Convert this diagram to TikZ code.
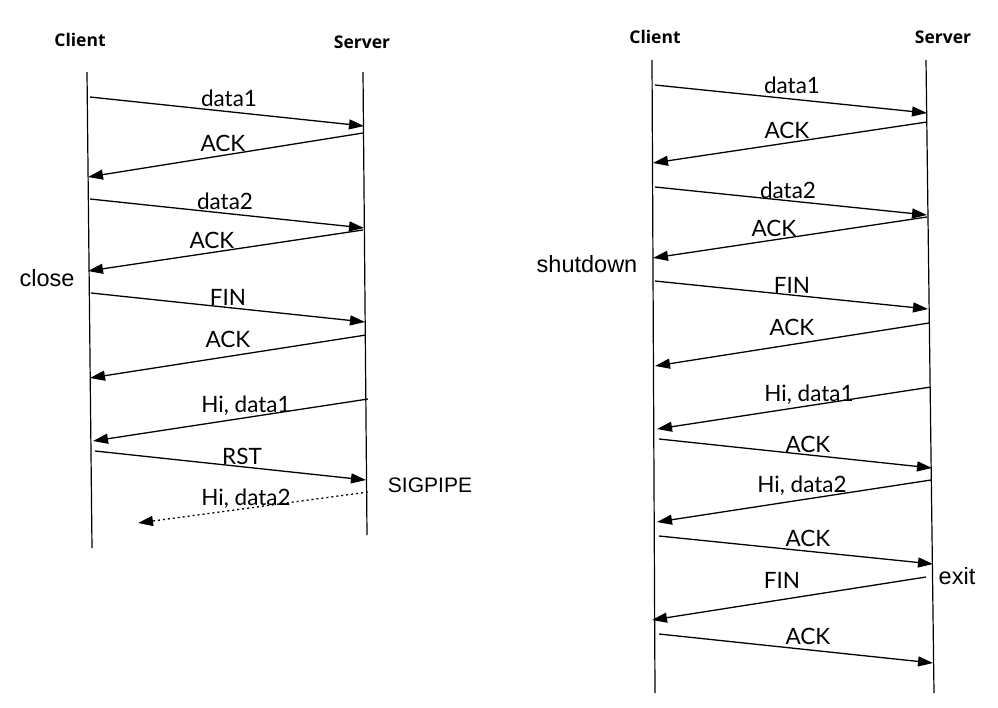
\documentclass[tikz,border=0pt]{standalone}
\usepackage{fontspec}
\setmainfont{Lato}
\newfontfamily\headfont{Open Sans}
\newfontfamily\notefont{Liberation Sans}
\usetikzlibrary{arrows.meta}
\begin{document}
\begin{tikzpicture}[x=1pt,y=-1pt,
  lifeline/.style={line width=1.2pt},
  msg/.style={line width=1.3pt,-{Triangle[length=15pt,width=10pt]}},
  lostmsg/.style={msg,dash pattern=on 2pt off 3pt},
  lbl/.style={inner sep=0pt,font=\fontsize{22.5}{26}\selectfont,text height=16pt,text depth=0pt},
  note/.style={inner sep=0pt,font=\notefont\fontsize{23.5}{27}\selectfont,text height=16pt,text depth=0pt},
  sig/.style={inner sep=0pt,font=\notefont\fontsize{21}{25}\selectfont,text height=15pt,text depth=0pt},
  head/.style={inner sep=0pt,font=\headfont\bfseries\fontsize{17.5}{20}\selectfont,text height=13pt,text depth=0pt}]
\useasboundingbox (0,0) rectangle (998,707);
\fill[white] (0,0) rectangle (998,707);

% ---------- left diagram ----------
\node[head] (lc) at (80,40) {Client};
\node[head] (ls) at (362,42) {Server};
\coordinate (lct) at (87,72); \coordinate (lcb) at (92,548);
\coordinate (lst) at (363,72); \coordinate (lsb) at (367,535);
\draw[lifeline] (lct) -- (lcb);
\draw[lifeline] (lst) -- (lsb);

\coordinate (a1) at (90,97);   \coordinate (b1) at (364,126);
\coordinate (a2) at (363,133); \coordinate (b2) at (88,177);
\coordinate (a3) at (90,199);  \coordinate (b3) at (364,228);
\coordinate (a4) at (363,230); \coordinate (b4) at (88,271);
\coordinate (a5) at (91,293);  \coordinate (b5) at (365,322);
\coordinate (a6) at (366,335); \coordinate (b6) at (90,378);
\coordinate (a7) at (368,399); \coordinate (b7) at (93,441);
\coordinate (a8) at (95,451);  \coordinate (b8) at (366,480);
\coordinate (a9) at (368,492); \coordinate (b9) at (138,523);
\draw[msg] (a1) -- (b1);
\draw[msg] (a2) -- (b2);
\draw[msg] (a3) -- (b3);
\draw[msg] (a4) -- (b4);
\draw[msg] (a5) -- (b5);
\draw[msg] (a6) -- (b6);
\draw[msg] (a7) -- (b7);
\draw[msg] (a8) -- (b8);
\draw[lostmsg] (a9) -- (b9);

\node[lbl] (l1) at (229,98) {data1};
\node[lbl] (l2) at (223,143) {ACK};
\node[lbl] (l3) at (225,201) {data2};
\node[lbl] (l4) at (212,240) {ACK};
\node[note] (lclose) at (47,278) {close};
\node[lbl] (l5) at (228,297) {FIN};
\node[lbl] (l6) at (228,339) {ACK};
\node[lbl] (l7) at (246,404) {Hi, data1};
\node[lbl] (l8) at (242,456) {RST};
\node[sig] (lsig) at (430,485) {SIGPIPE};
\node[lbl] (l9) at (246,497) {Hi, data2};

% ---------- right diagram ----------
\node[head] (rc) at (655,37) {Client};
\node[head] (rs) at (943,37) {Server};
\coordinate (rct) at (652,60); \coordinate (rcb) at (655,693);
\coordinate (rst) at (926,60); \coordinate (rsb) at (934,693);
\draw[lifeline] (rct) -- (rcb);
\draw[lifeline] (rst) -- (rsb);

\coordinate (c1) at (655,85);   \coordinate (d1) at (927,113);
\coordinate (c2) at (927,122);  \coordinate (d2) at (653,163);
\coordinate (c3) at (655,187);  \coordinate (d3) at (927,215);
\coordinate (c4) at (927,217);  \coordinate (d4) at (653,258);
\coordinate (c5) at (655,281);  \coordinate (d5) at (928,309);
\coordinate (c6) at (929,323);  \coordinate (d6) at (655,366);
\coordinate (c7) at (931,387);  \coordinate (d7) at (657,429);
\coordinate (c8) at (659,439);  \coordinate (d8) at (932,468);
\coordinate (c9) at (931,480);  \coordinate (d9) at (657,522);
\coordinate (c10) at (659,536); \coordinate (d10) at (933,564);
\coordinate (c11) at (926,577); \coordinate (d11) at (652,620);
\coordinate (c12) at (659,634); \coordinate (d12) at (933,663);
\draw[msg] (c1) -- (d1);
\draw[msg] (c2) -- (d2);
\draw[msg] (c3) -- (d3);
\draw[msg] (c4) -- (d4);
\draw[msg] (c5) -- (d5);
\draw[msg] (c6) -- (d6);
\draw[msg] (c7) -- (d7);
\draw[msg] (c8) -- (d8);
\draw[msg] (c9) -- (d9);
\draw[msg] (c10) -- (d10);
\draw[msg] (c11) -- (d11);
\draw[msg] (c12) -- (d12);

\node[lbl] (r1) at (792,85) {data1};
\node[lbl] (r2) at (787,130) {ACK};
\node[lbl] (r3) at (788,190) {data2};
\node[lbl] (r4) at (774,228) {ACK};
\node[note] (rshut) at (587,264) {shutdown};
\node[lbl] (r5) at (792,285) {FIN};
\node[lbl] (r6) at (792,327) {ACK};
\node[lbl] (r7) at (809,393) {Hi, data1};
\node[lbl] (r8) at (808,444) {ACK};
\node[lbl] (r9) at (802,484) {Hi, data2};
\node[lbl] (r10) at (808,538) {ACK};
\node[note] (rexit) at (957,576) {exit};
\node[lbl] (r11) at (782,580) {FIN};
\node[lbl] (r12) at (808,636) {ACK};
\end{tikzpicture}
\end{document}
